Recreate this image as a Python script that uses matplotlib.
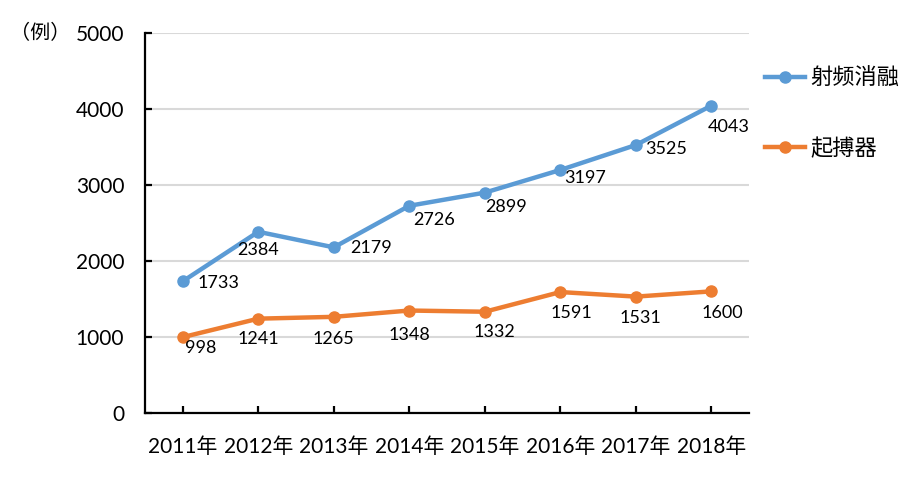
import matplotlib
matplotlib.use('Agg')
import matplotlib.pyplot as plt

plt.rcParams['font.family'] = ['Lato', 'Noto Sans CJK SC', 'DejaVu Sans']

years = ['2011年', '2012年', '2013年', '2014年', '2015年', '2016年', '2017年', '2018年']
ablation = [1733, 2384, 2179, 2726, 2899, 3197, 3525, 4043]
pacemaker = [998, 1241, 1265, 1348, 1332, 1591, 1531, 1600]

# offsets des étiquettes (pixels) par rapport au point
off_ablation = [(36, -2), (0, -18), (37, -1), (25, -14), (21, -14), (25, -8), (30, -4), (17, -21)]
off_pacemaker = [(18, -11), (0, -20), (0, -22), (0, -24), (10, -20), (11, -21), (5, -21), (11, -22)]

blue = '#5B9BD5'
orange = '#ED7D31'

fig = plt.figure(figsize=(9.18, 4.84), dpi=100)
ax = fig.add_axes([0.158, 0.1467, 0.658, 0.7853])

x = list(range(len(years)))
ax.plot(x, ablation, color=blue, lw=3.2, marker='o', ms=8, label='射频消融', zorder=3)
ax.plot(x, pacemaker, color=orange, lw=3.2, marker='o', ms=8, label='起搏器', zorder=3)

for i in x:
    ax.annotate(str(ablation[i]), (i, ablation[i]), xytext=off_ablation[i],
                textcoords='offset pixels', ha='center', va='center', fontsize=13)
    ax.annotate(str(pacemaker[i]), (i, pacemaker[i]), xytext=off_pacemaker[i],
                textcoords='offset pixels', ha='center', va='center', fontsize=13)

ax.set_xlim(-0.5, len(years) - 0.5)
ax.set_ylim(0, 5000)
ax.set_yticks(range(0, 5001, 1000))
ax.set_xticks(x)
ax.set_xticklabels(years)
ax.grid(axis='y', color='#D9D9D9', lw=1.5)
ax.set_axisbelow(True)
for s in ['top', 'right']:
    ax.spines[s].set_visible(False)
for s in ['left', 'bottom']:
    ax.spines[s].set_linewidth(1.6)
ax.tick_params(axis='both', direction='in', length=5, width=1.6, labelsize=15)
ax.tick_params(axis='x', pad=17)
ax.tick_params(axis='y', pad=15)

fig.text(0.077, 0.932, '（例）', fontsize=14.5, va='center', ha='right')

ax.legend(loc='upper left', bbox_to_anchor=(1.0, 0.95), frameon=False, fontsize=16,
          labelspacing=2.2, handlelength=1.8, handletextpad=0.25, borderaxespad=0.3)

fig.savefig('out.png', dpi=100)
